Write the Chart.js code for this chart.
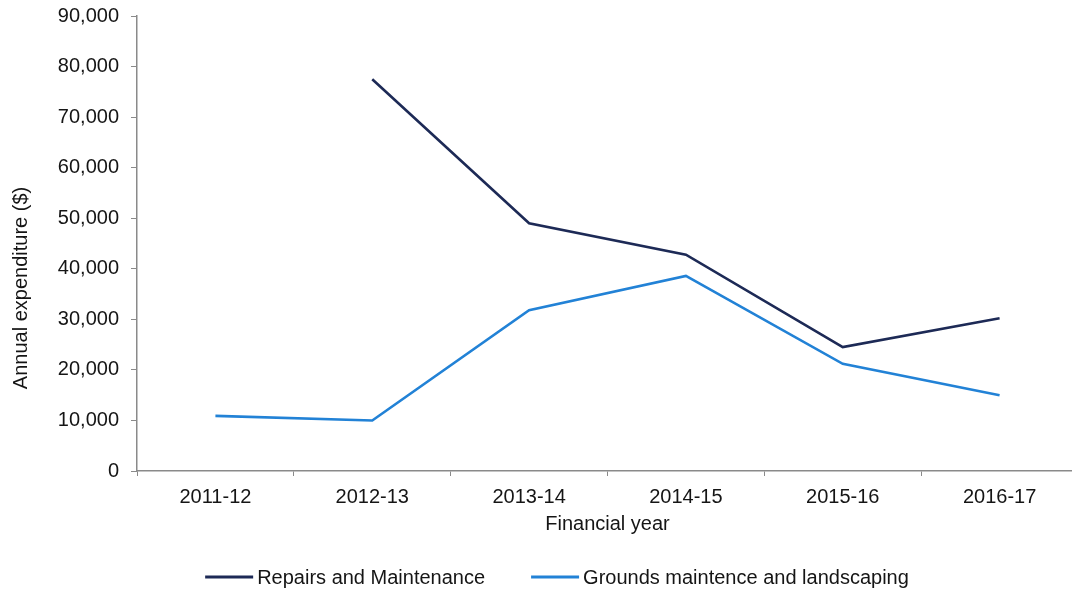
<!DOCTYPE html>
<html>
<head>
<meta charset="utf-8">
<title>Annual expenditure by financial year</title>
<script src="https://cdn.jsdelivr.net/npm/chart.js@4.4.0/dist/chart.umd.min.js"></script>
<style>
  html, body { margin: 0; padding: 0; background: #fff; overflow: hidden; }
  #wrap { position: relative; width: 1080px; height: 591px; }
</style>
</head>
<body>
<div id="wrap"><canvas id="chart"></canvas></div>
<script>
// financial years and annual spend ($)
const years = ["2011-12", "2012-13", "2013-14", "2014-15", "2015-16", "2016-17"];
const repairs = [null, 77500, 49000, 42800, 24500, 30200];
const grounds = [10900, 10000, 31800, 38600, 21200, 15000];
const yTicks = [0, 10000, 20000, 30000, 40000, 50000, 60000, 70000, 80000, 90000];

const FONT = "'Liberation Sans', Arial, sans-serif";
const INK = "#151515";
const AXIS = "#8a8a8a";

// legend underneath + rotated y title (drawn by hand so they sit where we want)
const extras = {
  id: "extras",
  afterDraw(chart) {
    const ctx = chart.ctx;
    ctx.save();
    ctx.font = "20px " + FONT;
    ctx.fillStyle = INK;

    // y axis title
    ctx.save();
    ctx.translate(21, 288);
    ctx.rotate(-Math.PI / 2);
    ctx.textAlign = "center";
    ctx.textBaseline = "middle";
    ctx.fillText("Annual expenditure ($)", 0, 0);
    ctx.restore();

    // legend
    const lineW = 48, gap = 4, spacing = 46;
    ctx.textBaseline = "middle";
    ctx.textAlign = "left";
    const items = chart.data.datasets.map((ds) => ({ ds, w: ctx.measureText(ds.label).width }));
    const total = items.reduce((s, it) => s + lineW + gap + it.w, 0) + spacing * (items.length - 1);
    let x = 557 - total / 2;
    const y = 577;
    items.forEach((it) => {
      ctx.strokeStyle = it.ds.borderColor;
      ctx.lineWidth = 3;
      ctx.beginPath();
      ctx.moveTo(x, y);
      ctx.lineTo(x + lineW, y);
      ctx.stroke();
      ctx.fillStyle = INK;
      ctx.fillText(it.ds.label, x + lineW + gap, y + 1);
      x += lineW + gap + it.w + spacing;
    });
    ctx.restore();
  },
};

new Chart(document.getElementById("chart"), {
  type: "line",
  data: {
    labels: years,
    datasets: [
      {
        label: "Repairs and Maintenance",
        data: repairs,
        borderColor: "#1d2a56",
        borderWidth: 2.6,
        pointRadius: 0,
        tension: 0,
      },
      {
        label: "Grounds maintence and landscaping",
        data: grounds,
        borderColor: "#2282d6",
        borderWidth: 2.6,
        pointRadius: 0,
        tension: 0,
      },
    ],
  },
  options: {
    responsive: true,
    maintainAspectRatio: false,
    animation: false,
    layout: { padding: { top: 16, right: 2, bottom: 28, left: 0 } },
    plugins: {
      legend: { display: false },
      tooltip: { enabled: false },
    },
    scales: {
      x: {
        offset: true,
        grid: {
          offset: true,
          drawOnChartArea: false,
          drawTicks: true,
          tickLength: 5,
          color: AXIS,
        },
        border: { color: AXIS, width: 1.5 },
        ticks: {
          color: INK,
          padding: 9,
          maxRotation: 0,
          font: { family: FONT, size: 20 },
        },
        title: {
          display: true,
          text: "Financial year",
          color: INK,
          font: { family: FONT, size: 20 },
          padding: { top: 4, bottom: 27 },
        },
        afterFit(scale) {
          scale.height = 92;
          scale.paddingLeft = 0;
          scale.paddingRight = 0;
        },
      },
      y: {
        min: yTicks[0],
        max: yTicks[yTicks.length - 1],
        grid: {
          drawOnChartArea: false,
          drawTicks: true,
          tickLength: 6,
          color: AXIS,
        },
        border: { color: AXIS, width: 1.5 },
        afterBuildTicks(scale) {
          scale.ticks = yTicks.map((v) => ({ value: v }));
        },
        ticks: {
          color: INK,
          padding: 12,
          font: { family: FONT, size: 20 },
          callback: (v) => Number(v).toLocaleString("en-US"),
        },
        afterFit(scale) {
          scale.width = 137;
          scale.paddingTop = 0;
          scale.paddingBottom = 0;
        },
      },
    },
  },
  plugins: [extras],
});
</script>
</body>
</html>
